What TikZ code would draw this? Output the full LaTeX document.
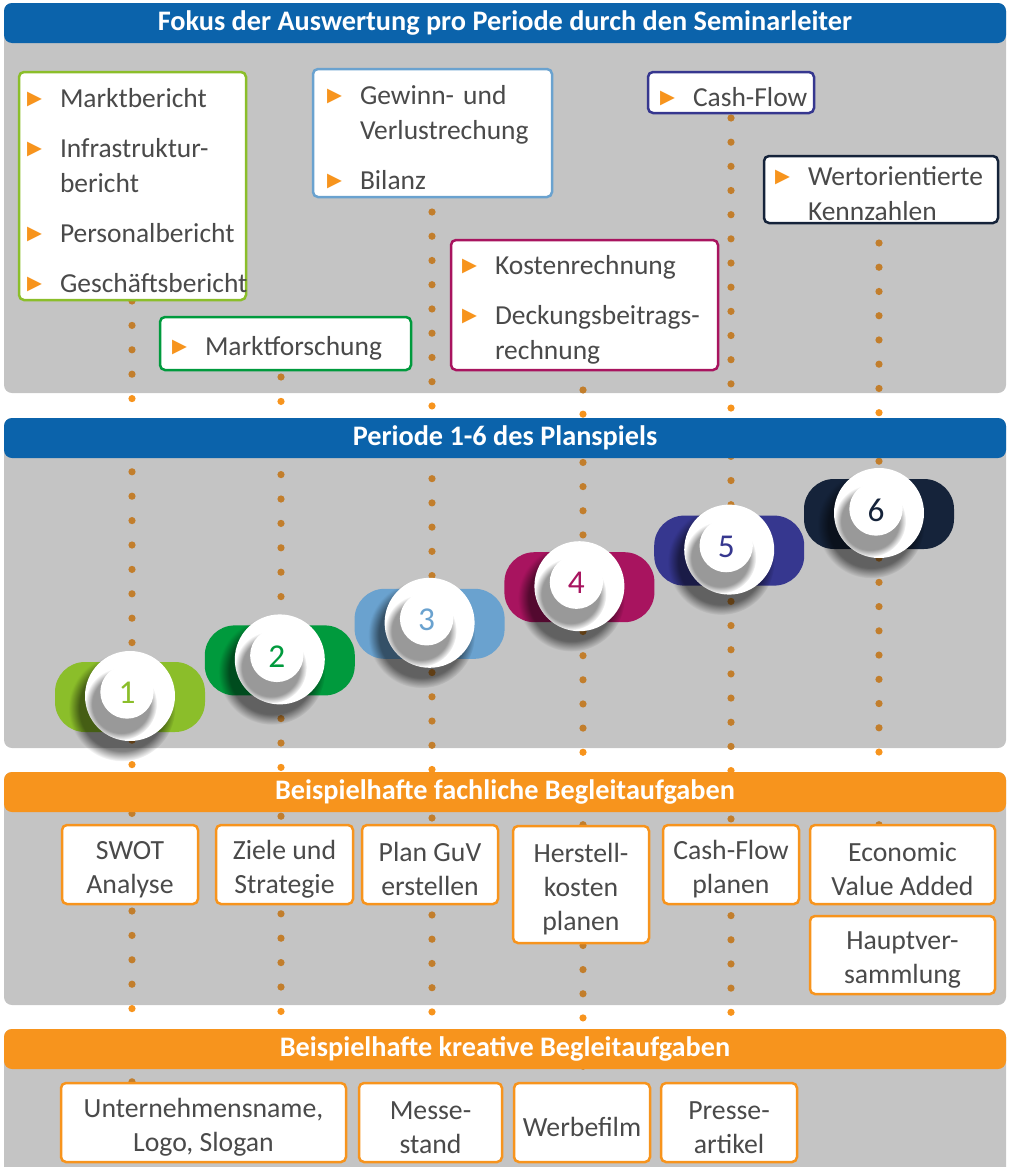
\documentclass[tikz,border=0pt]{standalone}
\usepackage{fontspec}
\setmainfont{Carlito}
\newfontfamily\symfont{DejaVu Sans}
\usetikzlibrary{fadings}

\definecolor{hdrblue}{HTML}{0B63AB}
\definecolor{hdrorange}{HTML}{F7941D}
\definecolor{panelgray}{HTML}{C4C4C4}
\definecolor{dotbrown}{HTML}{C27E2C}
\definecolor{txtgray}{HTML}{4A4A4A}
\definecolor{plime}{HTML}{8BBE2A}
\definecolor{pgreen}{HTML}{009A3D}
\definecolor{pblue}{HTML}{6AA2CF}
\definecolor{pmagenta}{HTML}{A8145F}
\definecolor{pindigo}{HTML}{36378F}
\definecolor{pnavy}{HTML}{15233A}

\newdimen\px \px=0.75pt
\newcommand{\bul}{\makebox[33\px][l]{\raisebox{2.3pt}{\symfont\color{hdrorange}\fontsize{14.5}{14.5}\selectfont ▶}}}
\newcommand{\ind}{\hspace*{33\px}}
\newcommand{\tp}{\rule{0pt}{21pt}}

% x, first y, last y, spacing
\newcommand{\dotcolumn}[4]{%
  \pgfmathtruncatemacro\ndots{(#3-#2)/#4}
  \foreach \k in {0,...,\ndots}{
    \pgfmathsetmacro\yy{#2+\k*#4}
    \pgfmathtruncatemacro\ingap{((\yy>393)&&(\yy<418))||((\yy>748)&&(\yy<772))||((\yy>1005)&&(\yy<1029))}
    \ifnum\ingap=1 \def\dc{hdrorange}\else\def\dc{dotbrown}\fi
    \fill[\dc] (#1,\yy) circle (2.7pt);
  }}

\begin{document}
\begin{tikzpicture}[
    x=0.75pt, y=-0.75pt,
    panel/.style={fill=panelgray, rounded corners=8\px},
    hdrbar/.style={rounded corners=8\px, minimum width=1002\px, minimum height=40\px, inner sep=0pt, text=white, font=\bfseries\fontsize{21.2}{25}\selectfont},
    listbox/.style={draw=#1, fill=white, line width=2.5\px, rounded corners=5\px, inner xsep=11\px, inner ysep=0pt, align=left, text=txtgray, font=\fontsize{20.6}{26.25}\selectfont},
    taskbox/.style={draw=hdrorange, fill=white, line width=2.5\px, rounded corners=5\px, inner sep=0pt, align=center, text=txtgray, minimum height=79\px, font=\fontsize{20.8}{25.5}\selectfont},
    pill/.style={fill=#1, rounded corners=30\px, minimum width=150\px, minimum height=70\px, inner sep=0pt},
    knob/.style={circle, fill=white, minimum size=90\px, inner sep=0pt},
    numtext/.style={text=#1, inner sep=0pt, font=\fontsize{25}{25}\selectfont}
]
\useasboundingbox (0,0) rectangle (1010,1167);

% Panels
\fill[panel] (4,3) rectangle (1006,393);
\fill[panel] (4,418) rectangle (1006,748);
\fill[panel] (4,772) rectangle (1006,1005);
\fill[panel] (4,1029) rectangle (1006,1180);

% Dotted period lines
\dotcolumn{132}{301}{1083}{24.4}
\dotcolumn{281}{377}{1083}{24.4}
\dotcolumn{432}{212}{1083}{24.24}
\dotcolumn{583}{390}{1083}{24.15}
\dotcolumn{731}{118}{1083}{24.17}
\dotcolumn{879}{243}{980}{24.24}

% Headers
\node[hdrbar, fill=hdrblue] (hdrfokus) at (505,23) {Fokus der Auswertung pro Periode durch den Seminarleiter};
\node[hdrbar, fill=hdrblue] (hdrperiode) at (505,438) {Periode 1-6 des Planspiels};
\node[hdrbar, fill=hdrorange] (hdrfach) at (505,792) {Beispielhafte fachliche Begleitaufgaben};
\node[hdrbar, fill=hdrorange] (hdrkreativ) at (505,1049) {Beispielhafte kreative Begleitaufgaben};

% Focus per period
\node[listbox=plime, inner xsep=8\px, text width=211\px, minimum width=227\px, minimum height=228\px] (bericht) at (132.5,186)
  {\tp\bul Marktbericht\\[11.25pt]\bul Infrastruktur-\\\ind bericht\\[11.25pt]\bul Personalbericht\\[11.25pt]\bul Geschäftsbericht};
\node[listbox=pgreen, inner xsep=12\px, text width=227\px, minimum width=251\px, minimum height=53\px] (forschung) at (285.5,343.5)
  {\tp\bul Marktforschung};
\node[listbox=pblue, inner xsep=14\px, text width=211\px, minimum width=239\px, minimum height=128\px] (guv) at (432.5,133)
  {\tp\bul Gewinn- und\\\ind Verlustrechung\\[11.25pt]\bul Bilanz};
\node[listbox=pmagenta, text width=245\px, minimum width=267\px, minimum height=130\px] (kosten) at (584.5,305)
  {\tp\bul Kostenrechnung\\[11.25pt]\bul Deckungsbeitrags-\\\ind rechnung};
\node[listbox=pindigo, inner xsep=12\px, text width=142\px, minimum width=166\px, minimum height=41\px] (cashflow) at (731,92.5)
  {\tp\bul\mbox{Cash-Flow}};
\node[listbox=pnavy, text width=212\px, minimum width=234\px, minimum height=67\px] (kennzahlen) at (881,189.5)
  {\tp\bul Wertorientierte\\\ind Kennzahlen};

% Periods 1-6
\foreach \i/\pc in {1/plime,2/pgreen,3/pblue,4/pmagenta,5/pindigo,6/pnavy}{
  \pgfmathsetmacro\cx{130+(\i-1)*149.8}
  \pgfmathsetmacro\cy{696-(\i-1)*36.6}
  \node[pill=\pc] (pill\i) at (\cx,\cy+1) {};
  \fill[black, opacity=0.5, path fading=circle with fuzzy edge 20 percent] (\cx-8,\cy+12) circle (40pt);
  \node[knob] (knob\i) at (\cx,\cy) {};
  \begin{scope}
    \clip (knob\i.center) circle (33.75pt);
    \fill[black, opacity=0.4, path fading=circle with fuzzy edge 20 percent] (\cx-9,\cy+8) circle (27pt);
  \end{scope}
  \fill[white] (\cx-3,\cy-4) circle (20pt);
  \node[numtext=\pc] (p\i) at (\cx-3,\cy-3) {\i};
}

% Subject tasks
\node[taskbox, minimum width=136\px] (swot) at (130,864.5) {\tp SWOT\\Analyse};
\node[taskbox, minimum width=137\px] (ziele) at (284.5,864.5) {\tp Ziele und\\Strategie};
\node[taskbox, minimum width=136\px] (planguv) at (430,864.5) {\tp Plan GuV\\erstellen};
\node[taskbox, minimum width=136\px, minimum height=117\px] (herstell) at (581,884.5) {\tp Herstell-\\kosten\\planen};
\node[taskbox, minimum width=136\px] (cfplan) at (731,864.5) {\tp Cash-Flow\\planen};
\node[taskbox, minimum width=185\px] (eva) at (902.5,864.5) {\tp Economic\\Value Added};
\node[taskbox, minimum width=185\px, minimum height=78\px] (hv) at (902.5,955) {\tp Hauptver-\\sammlung};

% Creative tasks
\node[taskbox, minimum width=285\px] (uname) at (203.5,1122.5) {\tp Unternehmensname,\\Logo, Slogan};
\node[taskbox, minimum width=143\px] (messe) at (430.5,1122.5) {\tp Messe-\\stand};
\node[taskbox, minimum width=136\px] (werbe) at (582,1122.5) {\tp Werbefilm};
\node[taskbox, minimum width=136\px] (presse) at (729,1122.5) {\tp Presse-\\artikel};

\end{tikzpicture}
\end{document}
